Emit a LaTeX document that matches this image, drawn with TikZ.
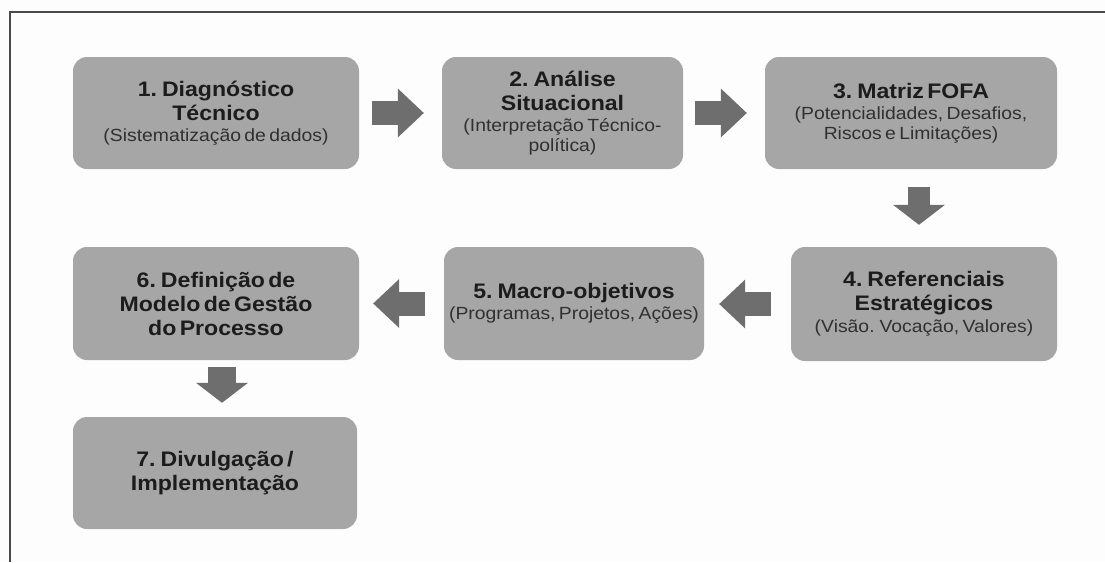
\documentclass[tikz,border=0pt]{standalone}
\usepackage{fontspec}
\setmainfont[FakeStretch=1.1,WordSpace=1.15]{Liberation Sans}
\usetikzlibrary{arrows.meta,calc}
\definecolor{boxgray}{HTML}{A6A6A6}
\definecolor{arrgray}{HTML}{6E6E6E}
\definecolor{framegray}{HTML}{4A4A4A}
\definecolor{titletxt}{HTML}{1C1C1C}
\definecolor{subtxt}{HTML}{303030}
\definecolor{bggray}{HTML}{FDFDFD}
\newcommand{\boxttl}[1]{{\fontsize{21}{24}\selectfont\bfseries #1\par}}
\newcommand{\boxsub}[1]{{\fontsize{17.6}{19.5}\selectfont\color{subtxt}\vskip 2pt #1\par}}
\tikzset{
  box/.style={rectangle, rounded corners=14pt, fill=boxgray, inner sep=0pt, align=center, text=titletxt},
  flowh/.style={line width=24pt, arrgray, -{Triangle[length=26pt,width=49pt,line width=0pt]}},
  flowv/.style={line width=24pt, arrgray, -{Triangle[length=20pt,width=52pt,line width=0pt]}},
}
\begin{document}
\begin{tikzpicture}[x=1pt,y=-1pt]
\fill[bggray] (0,0) rectangle (1105,562);
\useasboundingbox (0,0) rectangle (1105,562);
\draw[framegray, line width=2pt] (10,562) -- (10,12) -- (1105,12);

\node[box, minimum width=286pt, minimum height=112pt, text width=286pt] (b1) at (216,113)
  {\boxttl{1. Diagnóstico\\Técnico}\boxsub{(Sistematização de dados)}};
\node[box, minimum width=241pt, minimum height=112pt, text width=241pt] (b2) at (562.5,113)
  {\boxttl{2. Análise\\Situacional}\boxsub{(Interpretação Técnico-\\política)}};
\node[box, minimum width=292pt, minimum height=112pt, text width=292pt] (b3) at (911,113)
  {\boxttl{3. Matriz FOFA}\boxsub{(Potencialidades, Desafios,\\Riscos e Limitações)}};
\node[box, minimum width=266pt, minimum height=114pt, text width=266pt] (b4) at (924,304)
  {\boxttl{4. Referenciais\\Estratégicos}\boxsub{(Visão. Vocação, Valores)}};
\node[box, minimum width=260pt, minimum height=113pt, text width=260pt] (b5) at (574,303.5)
  {\boxttl{5. Macro-objetivos}\boxsub{(Programas, Projetos, Ações)}};
\node[box, minimum width=286pt, minimum height=113pt, text width=286pt] (b6) at (216,303.5)
  {\boxttl{6. Definição de\\Modelo de Gestão\\do Processo}};
\node[box, minimum width=284pt, minimum height=112pt, text width=284pt] (b7) at (215,473)
  {\boxttl{7. Divulgação /\\Implementação}};

\draw[flowh, shorten <=13pt, shorten >=18pt] (b1.east) -- (b2.west);
\draw[flowh, shorten <=12pt, shorten >=18pt] (b2.east) -- (b3.west);
\draw[flowv, line width=22pt, shorten <=18pt, shorten >=22pt] ([xshift=8pt]b3.south) -- ([xshift=8pt]b3.south |- b4.north);
\draw[flowh, shorten <=20pt, shorten >=15pt] (b4.west) -- (b4.west -| b5.east);
\draw[flowh, shorten <=19pt, shorten >=14pt] (b5.west) -- (b5.west -| b6.east);
\draw[flowv, line width=28pt, shorten <=7pt, shorten >=14pt] ([xshift=6pt]b6.south) -- ([xshift=6pt]b6.south |- b7.north);
\end{tikzpicture}
\end{document}
